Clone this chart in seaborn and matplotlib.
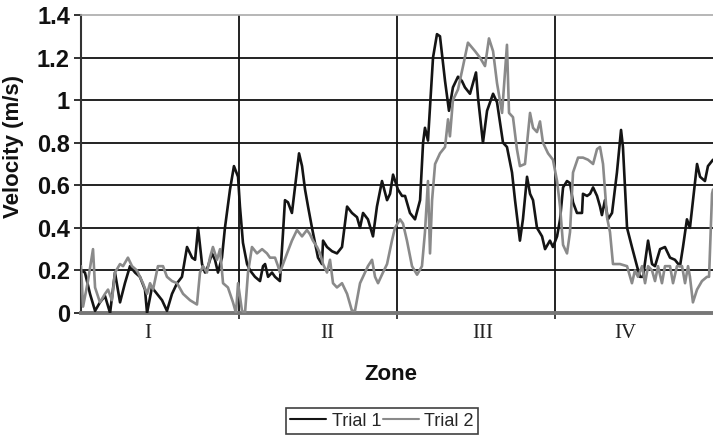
import matplotlib
matplotlib.use("Agg")
import matplotlib.pyplot as plt
import seaborn as sns
import pandas as pd
from matplotlib.lines import Line2D

# ---- data (x in zone units, 0..4; y = velocity in m/s) ----
trial1_x = [0.0, 0.025, 0.057, 0.089, 0.12, 0.152, 0.184, 0.215, 0.247, 0.278,
            0.31, 0.342, 0.373, 0.405, 0.418, 0.449, 0.481, 0.513, 0.544, 0.576,
            0.608, 0.639, 0.671, 0.703, 0.722, 0.741, 0.766, 0.785, 0.804, 0.829,
            0.848, 0.867, 0.892, 0.911, 0.943, 0.968, 0.994, 1.006, 1.025, 1.051,
            1.07, 1.101, 1.133, 1.152, 1.165, 1.184, 1.209, 1.228, 1.259, 1.278,
            1.291, 1.31, 1.335, 1.354, 1.38, 1.399, 1.418, 1.437, 1.462, 1.481,
            1.5, 1.525, 1.532, 1.557, 1.589, 1.62, 1.652, 1.684, 1.715, 1.747,
            1.766, 1.785, 1.816, 1.848, 1.873, 1.905, 1.937, 1.956, 1.975, 2.006,
            2.032, 2.051, 2.082, 2.114, 2.146, 2.165, 2.177, 2.196, 2.228, 2.253,
            2.272, 2.304, 2.329, 2.354, 2.386, 2.411, 2.43, 2.462, 2.5, 2.513,
            2.544, 2.57, 2.608, 2.633, 2.671, 2.696, 2.728, 2.747, 2.778, 2.797,
            2.823, 2.842, 2.861, 2.886, 2.918, 2.937, 2.968, 2.987, 3.013, 3.032,
            3.051, 3.076, 3.095, 3.114, 3.139, 3.171, 3.177, 3.203, 3.222, 3.241,
            3.266, 3.285, 3.297, 3.316, 3.335, 3.361, 3.392, 3.418, 3.43, 3.456,
            3.487, 3.519, 3.538, 3.557, 3.589, 3.614, 3.633, 3.665, 3.696, 3.728,
            3.759, 3.791, 3.81, 3.835, 3.854, 3.899, 3.918, 3.949, 3.968, 4.0]
trial1_v = [0.20, 0.19, 0.09, 0.01, 0.05, 0.08, 0.00, 0.19, 0.05, 0.14,
            0.22, 0.19, 0.17, 0.11, 0.00, 0.12, 0.09, 0.06, 0.01, 0.09,
            0.14, 0.17, 0.31, 0.26, 0.25, 0.40, 0.23, 0.19, 0.22, 0.28,
            0.25, 0.19, 0.26, 0.40, 0.58, 0.69, 0.64, 0.50, 0.33, 0.23,
            0.20, 0.17, 0.15, 0.22, 0.23, 0.17, 0.19, 0.17, 0.15, 0.37,
            0.53, 0.52, 0.47, 0.59, 0.75, 0.69, 0.58, 0.50, 0.40, 0.33,
            0.26, 0.23, 0.34, 0.31, 0.29, 0.28, 0.31, 0.50, 0.47, 0.45,
            0.40, 0.47, 0.44, 0.36, 0.50, 0.62, 0.53, 0.56, 0.65, 0.58,
            0.55, 0.55, 0.47, 0.44, 0.53, 0.80, 0.87, 0.81, 1.20, 1.31,
            1.30, 1.09, 0.95, 1.06, 1.11, 1.09, 1.06, 1.03, 1.13, 1.01,
            0.80, 0.95, 1.03, 0.99, 0.80, 0.78, 0.66, 0.53, 0.34, 0.44,
            0.64, 0.56, 0.53, 0.40, 0.36, 0.30, 0.34, 0.31, 0.36, 0.44,
            0.59, 0.62, 0.61, 0.52, 0.47, 0.47, 0.56, 0.55, 0.56, 0.59,
            0.55, 0.50, 0.46, 0.53, 0.44, 0.47, 0.66, 0.86, 0.78, 0.40,
            0.31, 0.22, 0.17, 0.17, 0.34, 0.23, 0.22, 0.30, 0.31, 0.26,
            0.25, 0.22, 0.31, 0.44, 0.40, 0.70, 0.64, 0.62, 0.69, 0.72]

trial2_x = [0.0, 0.013, 0.044, 0.076, 0.089, 0.12, 0.152, 0.171, 0.196, 0.215,
            0.247, 0.266, 0.297, 0.323, 0.354, 0.373, 0.392, 0.418, 0.437, 0.456,
            0.487, 0.519, 0.544, 0.576, 0.608, 0.646, 0.69, 0.734, 0.753, 0.772,
            0.797, 0.816, 0.835, 0.861, 0.88, 0.899, 0.93, 0.962, 0.981, 0.994,
            1.019, 1.038, 1.057, 1.082, 1.114, 1.146, 1.177, 1.196, 1.228, 1.247,
            1.259, 1.304, 1.335, 1.367, 1.399, 1.43, 1.449, 1.468, 1.494, 1.513,
            1.532, 1.557, 1.576, 1.595, 1.62, 1.652, 1.684, 1.715, 1.734, 1.766,
            1.785, 1.816, 1.842, 1.861, 1.88, 1.911, 1.937, 1.968, 1.987, 2.019,
            2.038, 2.063, 2.095, 2.127, 2.158, 2.177, 2.196, 2.209, 2.222, 2.241,
            2.272, 2.304, 2.323, 2.335, 2.354, 2.386, 2.418, 2.449, 2.494, 2.525,
            2.557, 2.582, 2.608, 2.633, 2.665, 2.696, 2.709, 2.734, 2.759, 2.778,
            2.81, 2.842, 2.861, 2.886, 2.905, 2.924, 2.956, 2.987, 3.013, 3.032,
            3.051, 3.076, 3.095, 3.114, 3.146, 3.177, 3.209, 3.241, 3.266, 3.285,
            3.304, 3.329, 3.348, 3.367, 3.411, 3.456, 3.475, 3.487, 3.506, 3.525,
            3.551, 3.57, 3.589, 3.614, 3.633, 3.652, 3.677, 3.696, 3.728, 3.747,
            3.772, 3.804, 3.823, 3.842, 3.854, 3.873, 3.899, 3.93, 3.962, 3.975,
            3.994, 4.0]
trial2_v = [0.22, 0.03, 0.15, 0.30, 0.12, 0.05, 0.09, 0.11, 0.06, 0.19,
            0.23, 0.22, 0.26, 0.22, 0.20, 0.17, 0.14, 0.09, 0.14, 0.11,
            0.22, 0.22, 0.17, 0.15, 0.14, 0.09, 0.06, 0.04, 0.19, 0.22,
            0.19, 0.26, 0.31, 0.25, 0.30, 0.14, 0.12, 0.05, 0.00, 0.14,
            0.01, 0.00, 0.19, 0.31, 0.28, 0.30, 0.28, 0.26, 0.26, 0.22,
            0.19, 0.28, 0.34, 0.39, 0.36, 0.39, 0.37, 0.34, 0.31, 0.28,
            0.23, 0.19, 0.25, 0.14, 0.12, 0.14, 0.09, 0.01, 0.01, 0.14,
            0.17, 0.22, 0.25, 0.17, 0.14, 0.19, 0.23, 0.34, 0.40, 0.44,
            0.42, 0.34, 0.22, 0.18, 0.22, 0.38, 0.62, 0.28, 0.53, 0.70,
            0.75, 0.78, 0.91, 0.83, 1.00, 1.05, 1.16, 1.27, 1.23, 1.20,
            1.16, 1.29, 1.23, 1.08, 0.94, 1.26, 0.94, 0.92, 0.77, 0.69,
            0.70, 0.94, 0.87, 0.85, 0.90, 0.80, 0.75, 0.72, 0.62, 0.50,
            0.32, 0.28, 0.38, 0.66, 0.73, 0.73, 0.72, 0.70, 0.77, 0.78,
            0.70, 0.45, 0.38, 0.23, 0.23, 0.22, 0.17, 0.14, 0.20, 0.17,
            0.22, 0.14, 0.22, 0.20, 0.15, 0.22, 0.14, 0.22, 0.22, 0.14,
            0.22, 0.22, 0.14, 0.22, 0.17, 0.05, 0.11, 0.15, 0.17, 0.17,
            0.56, 0.58]

series_names = ["Trial 1", "Trial 2"]
zone_labels = ["I", "II", "III", "IV"]
zone_label_pos = [0.424, 1.557, 2.544, 3.443]
zone_bounds = [1, 2, 3]
y_ticks = [0, 0.2, 0.4, 0.6, 0.8, 1.0, 1.2, 1.4]
y_tick_labels = ["0", "0.2", "0.4", "0.6", "0.8", "1", "1.2", "1.4"]

df = pd.concat([
    pd.DataFrame({"zone": trial1_x, "velocity": trial1_v, "trial": series_names[0]}),
    pd.DataFrame({"zone": trial2_x, "velocity": trial2_v, "trial": series_names[1]}),
], ignore_index=True)

sns.set_theme(style="white")
plt.rcParams["font.family"] = ["Liberation Sans", "DejaVu Sans"]

fig = plt.figure(figsize=(7.13, 4.38), dpi=100)
ax = fig.add_axes([81 / 713, 1 - 313 / 438, 1 - 81 / 713, 298 / 438])

colors = {"Trial 1": "#141414", "Trial 2": "#8a8a8a"}
sns.lineplot(data=df, x="zone", y="velocity", hue="trial", palette=colors,
             estimator=None, sort=False, linewidth=1.9, legend=False, ax=ax,
             zorder=3)

ax.set_xlim(0, 4)
ax.set_ylim(0, 1.4)

# grid
for yv in y_ticks[1:-1]:
    ax.axhline(yv, color="#111111", lw=1.3, zorder=1)
for xv in zone_bounds:
    ax.axvline(xv, color="#111111", lw=1.3, zorder=1)

ax.set_yticks(y_ticks)
ax.set_yticklabels(y_tick_labels, fontsize=17, fontweight="bold", color="#111111")
ax.tick_params(axis="y", which="major", left=True, length=5, width=1.3,
               color="#222222", pad=3, direction="out")

ax.set_xticks(zone_bounds)
ax.set_xticklabels([])
ax.tick_params(axis="x", which="major", bottom=True, length=4, width=1.3,
               color="#333333", direction="out")
ax.set_xticks(zone_label_pos, minor=True)
ax.set_xticklabels(zone_labels, minor=True, fontsize=15,
                   family=["Liberation Serif", "DejaVu Serif"], color="#222222")
ax.tick_params(axis="x", which="minor", length=0, pad=8)

ax.spines["left"].set_color("#333333")
ax.spines["left"].set_linewidth(1.5)
ax.spines["bottom"].set_color("#777777")
ax.spines["bottom"].set_linewidth(2.8)
ax.spines["top"].set_color("#aaaaaa")
ax.spines["top"].set_linewidth(1.2)
ax.spines["right"].set_visible(False)

ax.set_ylabel("Velocity (m/s)", fontsize=16, fontweight="bold", color="#111111")
ax.yaxis.set_label_coords((24 - 81) / 632, 0.56)
ax.set_xlabel("Zone", fontsize=16, fontweight="bold", color="#111111")
ax.xaxis.set_label_coords((391 - 81) / 632, -(375 - 313) / 298)
ax.xaxis.label.set_verticalalignment("center")

handles = [Line2D([], [], color=colors[n], lw=1.5) for n in series_names]
leg = fig.legend(handles, series_names, loc="center",
                 bbox_to_anchor=(382 / 713, 1 - 421 / 438), ncol=2,
                 fontsize=13, frameon=True, fancybox=False, handlelength=2.0,
                 handletextpad=0.3, columnspacing=0.1, borderpad=0.25,
                 borderaxespad=0)
leg.get_frame().set_edgecolor("#111111")
leg.get_frame().set_linewidth(1.2)

fig.savefig("out.png", dpi=100)
